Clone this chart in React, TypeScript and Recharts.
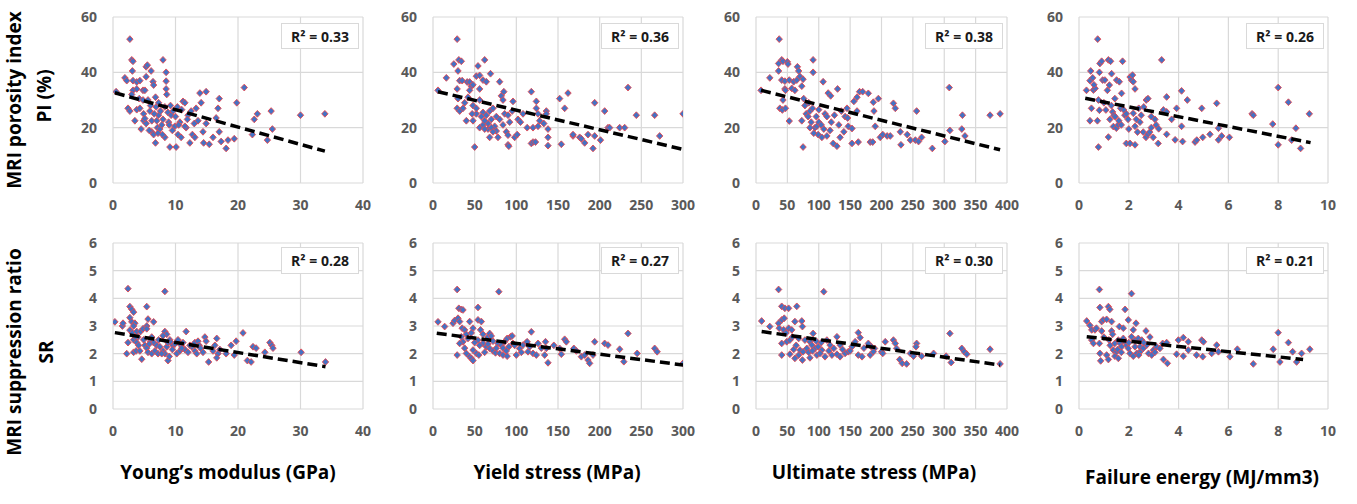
import { CartesianGrid, Scatter, ScatterChart, XAxis, YAxis } from "recharts";

type Pt = [number, number];

// axis ticks
const PI_TICKS = [0, 20, 40, 60];
const SR_TICKS = [0, 1, 2, 3, 4, 5, 6];
const MODULUS_TICKS = [0, 10, 20, 30, 40];
const YIELD_TICKS = [0, 50, 100, 150, 200, 250, 300];
const ULTIMATE_TICKS = [0, 50, 100, 150, 200, 250, 300, 350, 400];
const ENERGY_TICKS = [0, 2, 4, 6, 8, 10];

const X_TITLES = ["Young’s modulus (GPa)", "Yield stress (MPa)", "Ultimate stress (MPa)", "Failure energy (MJ/mm3)"];
const PI_R2 = ["0.33", "0.36", "0.38", "0.26"];
const SR_R2 = ["0.28", "0.27", "0.30", "0.21"];

// MRI porosity index (%) vs each mechanical property
const PI_VS_MODULUS: Pt[] = [
  [0.5, 33], [1.9, 38], [2.2, 37], [2.4, 27], [2.7, 26], [2.7, 52], [3.0, 44.5], [3.2, 44], [3.1, 40.5], [3.2, 37],
  [3.8, 36.5], [4.3, 37], [3.2, 33.5], [3.8, 34], [3.0, 32], [3.5, 22.5], [3.8, 26.5], [4.3, 27], [4.2, 30.5], [4.8, 33.5],
  [4.8, 30], [4.9, 25], [4.9, 22.5], [5.3, 21.5], [5.1, 23.3], [5.3, 42], [5.5, 42.6], [5.3, 38.4], [6.1, 40.5], [6.4, 36.6],
  [6.5, 35.4], [5.1, 33.5], [5.6, 30], [5.9, 26], [6.2, 22.5], [6.2, 18.5], [6.8, 14.5], [7.1, 20], [7.3, 24.5], [6.0, 28],
  [6.6, 25], [6.9, 27.5], [7.0, 22.5], [7.5, 19.5], [7.8, 21], [7.6, 26], [8.0, 44.5], [8.5, 40], [8.5, 36.8], [8.5, 34],
  [8.6, 32], [8.3, 27.5], [8.3, 16.5], [8.0, 23], [8.8, 25.5], [8.9, 22], [9.1, 13], [9.3, 24.5], [9.6, 26], [9.9, 20.5],
  [9.5, 19], [10.1, 13], [10.4, 17.5], [10.0, 24], [10.7, 22], [10.9, 16.5], [11.0, 26.5], [11.2, 29.5], [11.5, 29], [11.7, 20],
  [12.0, 24.5], [12.3, 14.5], [12.5, 26], [12.7, 17.5], [13.1, 16.5], [13.3, 27], [13.6, 22.5], [13.9, 32.5], [14.1, 29], [14.4, 18.5],
  [14.5, 14.5], [14.9, 33], [14.9, 21.5], [15.4, 14], [16.0, 16.5], [16.5, 23.5], [16.8, 27], [17.0, 30.5], [17.0, 18.5], [17.3, 15],
  [18.1, 12.5], [18.4, 15.5], [19.4, 16], [19.8, 29], [21.0, 34.5], [22.3, 17.5], [22.6, 23], [23.1, 25], [24.7, 15.5], [25.3, 26],
  [25.5, 19.5], [30.0, 24.5], [33.9, 25], [4.5, 19.5], [5.8, 19], [6.5, 17.5], [7.2, 18], [7.9, 17.5], [9.0, 21], [10.5, 21],
  [11.5, 20.5], [11.9, 23], [13.0, 21.5], [7.3, 29], [6.8, 31], [9.2, 28], [10.3, 27.5],
];
const PI_VS_YIELD: Pt[] = [
  [6, 33.5], [16, 38], [29, 52], [25, 43], [31, 44.5], [34, 44], [30, 40.5], [32, 37], [35, 37], [29, 34],
  [30, 30.5], [29, 27], [32, 26], [36, 27], [40, 22.5], [41, 36.5], [44, 36.5], [46, 35], [48, 35.5], [44, 33.5],
  [48, 22.5], [50, 13], [52, 38.6], [56, 38.9], [54, 42.3], [60, 37.2], [64, 36.6], [62, 44.5], [56, 34], [56, 30],
  [52, 25], [56, 20], [60, 25.5], [64, 24.5], [66, 21.5], [68, 26], [72, 27], [70, 23], [74, 20.5], [76, 18.8],
  [69, 39.5], [78, 16.5], [80, 36.6], [82, 31.5], [85, 33], [84, 30], [86, 25], [90, 24.5], [88, 18.5], [90, 17.3],
  [90, 13.8], [91, 13.3], [96, 29.5], [98, 16.5], [101, 17.5], [102, 23], [105, 22], [108, 25], [113, 20], [118, 33],
  [118, 14.3], [120, 14.8], [123, 14.8], [120, 20], [124, 29.5], [124, 27], [126, 25], [126, 20.5], [128, 22.5], [133, 21.5],
  [136, 26], [136, 25], [138, 19.5], [138, 16.5], [138, 13.5], [152, 30.5], [154, 14], [158, 27], [162, 32.5], [168, 17],
  [168, 17.5], [176, 16.5], [178, 16], [182, 14.5], [186, 17.5], [192, 12.5], [194, 17], [194, 29], [201, 15.5], [206, 26],
  [210, 20], [212, 20], [224, 20], [230, 20], [234, 34.5], [244, 24.5], [266, 24.5], [272, 17], [300, 25],
  [38, 29], [42, 31], [48, 28], [52, 27], [58, 24], [60, 21], [62, 22.5], [66, 19.5], [70, 20], [72, 18.5],
  [76, 24], [80, 23], [84, 21], [92, 22], [95, 26], [62, 19.5], [68, 16.5], [47, 25],
];
const PI_VS_ULTIMATE: Pt[] = [
  [8, 33.5], [22, 38], [37, 52], [36, 43.2], [41, 44.5], [43, 44], [36, 40.5], [41, 37.2], [46, 36.8], [46, 34],
  [47, 33.5], [43, 30], [38, 27], [42, 26.4], [47, 27], [53, 22.4], [50, 43.8], [51, 43], [53, 37.2], [60, 36.6],
  [65, 37.2], [57, 34.2], [62, 33.5], [66, 42], [68, 40.5], [70, 38.5], [75, 37.5], [73, 35], [76, 30.5], [75, 13],
  [73, 22.5], [80, 25], [83, 24], [86, 26], [91, 44.5], [91, 40], [88, 22], [94, 20], [97, 20.5], [99, 17.5],
  [105, 16.5], [107, 36.6], [110, 25], [113, 24], [115, 32.5], [119, 31.5], [113, 17], [118, 19], [123, 14.3], [130, 34],
  [129, 13.3], [134, 16.5], [140, 18.5], [145, 27], [142, 24], [146, 23.5], [147, 20.5], [153, 19.7], [153, 14.3], [156, 29.5],
  [161, 31], [165, 33], [161, 26], [163, 14.8], [170, 33], [179, 32.4], [182, 14.8], [186, 14.8], [187, 29.2], [188, 26],
  [190, 20.5], [195, 30.5], [198, 16.5], [202, 17.5], [209, 17], [214, 17], [219, 28.8], [222, 27], [230, 18.5], [231, 13.8],
  [241, 17.5], [246, 15.5], [254, 15.5], [256, 26], [259, 15], [264, 16.5], [281, 12.5], [301, 15], [308, 34.5], [309, 19],
  [328, 19.5], [329, 24.5], [333, 17], [373, 24.5], [389, 25],
  [78, 28], [84, 29], [90, 27], [96, 24], [100, 22], [104, 21], [108, 19.5], [120, 22], [125, 24.5], [132, 21],
  [136, 26], [100, 26.5], [92, 18], [86, 20],
];
const PI_VS_ENERGY: Pt[] = [
  [0.3, 33.5], [0.44, 37], [0.47, 40.5], [0.44, 22.5], [0.5, 27], [0.58, 33.6], [0.65, 34.2], [0.55, 38], [0.6, 35.5], [0.75, 52],
  [0.78, 13], [0.78, 30], [0.82, 26.3], [0.74, 22.5], [0.84, 43.2], [0.91, 44], [0.82, 40], [0.95, 37.2], [1.04, 37.2], [1.14, 33.5],
  [1.22, 35.4], [1.18, 16.6], [1.18, 44.5], [1.27, 44], [1.31, 39.5], [1.08, 26.4], [1.24, 23], [1.35, 25.7], [1.4, 24.5], [1.38, 20.4],
  [1.5, 19.8], [1.57, 21], [1.44, 30.5], [1.51, 37.2], [1.62, 36.6], [1.71, 32.4], [1.75, 44], [1.67, 27], [1.8, 26.4], [1.9, 14.3],
  [2.05, 14.3], [1.84, 24.5], [1.97, 23], [2.05, 38.3], [2.11, 37.2], [2.18, 36.6], [2.15, 39], [2.25, 34], [2.25, 13.8], [2.18, 25.2],
  [2.25, 20.5], [2.35, 18.4], [2.45, 22], [2.5, 24.5], [2.6, 27.5], [2.7, 30], [2.77, 30.5], [2.58, 18.4], [2.69, 16.5], [2.77, 17.6],
  [2.84, 18.4], [2.98, 16.5], [2.9, 24], [3.05, 23], [3.1, 21], [3.2, 19.6], [3.18, 14.3], [3.32, 44.5], [3.39, 26.4], [3.52, 25.7],
  [3.52, 31.1], [3.52, 17.6], [3.72, 23], [3.86, 15.6], [3.92, 27], [4.12, 33.3], [4.12, 20.5], [4.16, 15], [4.35, 30], [4.66, 14.8],
  [4.73, 15.5], [4.93, 27], [4.97, 16.5], [5.26, 17.6], [5.53, 28.8], [5.6, 19.8], [5.6, 15.6], [5.73, 17], [6.04, 16.5], [6.95, 25],
  [7.0, 24.5], [7.78, 21.3], [8.0, 34.5], [8.0, 13.8], [8.41, 29.2], [8.54, 15.5], [8.71, 19.8], [8.9, 12.5], [9.25, 25],
  [1.0, 29], [1.3, 28], [1.6, 22.5], [1.7, 21], [1.9, 25], [2.0, 19.5], [2.3, 23], [2.4, 27], [2.9, 20], [1.45, 24],
];

// MRI suppression ratio vs each mechanical property
const SR_VS_MODULUS: Pt[] = [
  [0.3, 3.15], [1.5, 3.0], [1.6, 3.1], [2.4, 4.35], [2.2, 2.0], [2.4, 2.4], [2.7, 3.7], [3.0, 3.6], [3.3, 3.5], [2.7, 3.3],
  [3.0, 3.15], [3.5, 3.1], [3.3, 3.0], [2.7, 2.85], [3.1, 2.75], [3.8, 2.8], [3.3, 2.5], [3.8, 2.4], [4.1, 2.3], [3.3, 2.05],
  [3.7, 2.1], [4.4, 2.8], [4.8, 2.9], [5.4, 3.0], [4.6, 1.8], [4.3, 2.1], [5.1, 2.3], [5.4, 2.2], [5.6, 2.05], [5.4, 3.7],
  [5.6, 3.25], [5.4, 2.9], [6.2, 2.6], [6.5, 3.15], [6.0, 2.45], [6.5, 2.4], [7.0, 2.3], [7.5, 2.25], [6.2, 2.0], [6.7, 2.1],
  [7.2, 2.0], [8.0, 2.1], [8.3, 2.0], [8.6, 2.25], [8.8, 2.4], [8.3, 4.25], [8.3, 2.8], [8.6, 2.7], [8.0, 2.65], [8.8, 1.75],
  [9.1, 2.5], [9.3, 2.4], [9.6, 2.3], [9.9, 2.35], [10.2, 2.0], [10.7, 2.1], [10.9, 2.3], [11.2, 2.4], [11.7, 2.8], [11.5, 2.15],
  [12.0, 2.05], [12.6, 2.25], [13.1, 2.1], [13.4, 2.0], [13.1, 2.4], [13.6, 2.45], [13.8, 2.3], [14.4, 2.05], [14.7, 2.6], [14.9, 2.45],
  [15.3, 1.7], [16.0, 2.1], [16.3, 2.3], [16.6, 2.55], [16.8, 2.0], [17.1, 2.15], [16.6, 1.85], [18.1, 2.0], [18.9, 2.3], [19.4, 1.95],
  [19.7, 2.45], [20.8, 2.75], [21.5, 1.75], [22.1, 1.7], [22.4, 2.25], [22.9, 2.2], [24.3, 2.05], [25.1, 2.4], [25.4, 2.3], [25.6, 2.2],
  [30.1, 2.05], [34.0, 1.7],
  [4.0, 2.6], [4.9, 2.5], [5.8, 2.35], [7.3, 2.5], [7.8, 2.0], [9.0, 1.9], [9.5, 2.15], [10.4, 2.5], [11.0, 2.2], [12.3, 2.3],
  [14.0, 2.2], [3.6, 2.6],
];
const SR_VS_YIELD: Pt[] = [
  [6, 3.15], [14, 2.98], [24, 3.1], [26, 3.2], [29, 4.32], [29, 1.95], [31, 3.64], [34, 3.6], [36, 3.58], [30, 3.28],
  [32, 3.16], [35, 2.92], [38, 2.86], [34, 2.61], [36, 2.43], [32, 2.37], [40, 2.01], [44, 1.89], [46, 1.83], [48, 1.75],
  [48, 2.13], [52, 2.01], [55, 1.95], [44, 3.16], [48, 2.92], [54, 3.67], [54, 3.22], [58, 3.16], [57, 2.86], [54, 2.49],
  [60, 2.37], [64, 2.25], [66, 2.61], [68, 2.73], [70, 2.64], [68, 2.19], [72, 2.1], [75, 2.03], [79, 4.24], [80, 2.01],
  [84, 1.95], [89, 1.91], [78, 2.37], [82, 2.31], [86, 2.43], [89, 2.55], [93, 2.61], [95, 2.64], [91, 2.25], [96, 2.37],
  [100, 1.95], [104, 2.19], [108, 2.31], [112, 2.4], [113, 2.43], [118, 2.79], [114, 2.07], [120, 2.01], [124, 1.95], [126, 2.37],
  [135, 2.43], [136, 2.19], [134, 1.95], [138, 1.67], [152, 2.19], [154, 1.98], [158, 2.52], [160, 2.43], [169, 2.19], [172, 2.1],
  [178, 1.89], [182, 1.95], [186, 1.77], [188, 1.65], [192, 1.95], [194, 2.43], [206, 2.37], [210, 2.31], [224, 2.16], [229, 1.71],
  [234, 2.73], [245, 2.01], [266, 2.19], [269, 2.07], [300, 1.65],
  [40, 2.7], [42, 2.55], [50, 2.4], [56, 2.3], [62, 2.05], [66, 2.35], [72, 2.45], [76, 2.2], [84, 2.2], [88, 2.1],
  [98, 2.3], [106, 2.05], [116, 2.25], [130, 2.2], [145, 2.3], [60, 2.7], [38, 2.2], [46, 2.75],
];
const SR_VS_ULTIMATE: Pt[] = [
  [9, 3.18], [22, 2.98], [36, 4.32], [41, 3.71], [46, 3.64], [52, 3.64], [65, 3.71], [36, 3.1], [41, 3.22], [45, 3.28],
  [37, 2.92], [44, 2.86], [52, 2.92], [57, 2.86], [62, 3.16], [73, 3.18], [74, 2.98], [41, 2.37], [49, 2.43], [54, 2.49],
  [41, 1.95], [54, 1.98], [62, 1.83], [68, 1.95], [74, 1.77], [70, 2.13], [75, 2.07], [81, 2.19], [78, 2.49], [86, 2.43],
  [91, 2.73], [89, 2.31], [94, 2.19], [99, 2.25], [105, 2.13], [97, 1.95], [102, 2.01], [110, 1.89], [108, 4.24], [113, 2.49],
  [118, 2.31], [124, 2.19], [129, 2.61], [134, 2.31], [121, 1.95], [129, 1.98], [134, 1.89], [142, 2.01], [147, 2.07], [153, 2.25],
  [158, 2.43], [163, 2.76], [166, 2.58], [163, 1.95], [169, 1.89], [179, 2.37], [184, 2.25], [189, 2.19], [182, 1.95], [187, 2.07],
  [200, 2.07], [202, 2.01], [206, 2.43], [219, 2.49], [222, 2.37], [224, 2.19], [229, 1.79], [233, 1.65], [240, 1.63], [246, 2.01],
  [251, 1.91], [256, 2.37], [255, 2.25], [264, 1.91], [283, 2.01], [303, 1.91], [309, 2.73], [311, 1.68], [328, 2.19], [332, 2.07],
  [336, 1.98], [373, 2.16], [389, 1.63],
  [58, 2.6], [64, 2.3], [68, 2.55], [84, 2.05], [90, 2.1], [96, 2.45], [104, 2.4], [116, 2.1], [138, 2.15], [150, 2.1],
  [172, 2.2], [48, 2.75], [60, 2.15], [86, 1.85],
];
const SR_VS_ENERGY: Pt[] = [
  [0.31, 3.18], [0.44, 3.02], [0.51, 2.86], [0.51, 2.49], [0.58, 2.37], [0.64, 2.86], [0.7, 2.92], [0.82, 4.32], [0.84, 3.67], [0.91, 3.16],
  [0.97, 3.22], [0.84, 2.01], [0.87, 1.74], [0.82, 2.37], [0.91, 2.82], [1.11, 3.24], [1.18, 3.7], [1.24, 3.6], [1.31, 3.16], [1.11, 1.95],
  [1.18, 1.79], [1.31, 2.82], [1.35, 2.7], [1.38, 2.13], [1.44, 1.91], [1.51, 2.07], [1.58, 1.83], [1.44, 2.37], [1.58, 2.49], [1.65, 2.37],
  [1.71, 2.25], [1.62, 2.98], [1.78, 2.92], [1.85, 3.6], [1.78, 2.55], [1.85, 2.43], [1.91, 2.31], [1.98, 2.19], [1.98, 3.22], [2.11, 4.17],
  [2.18, 2.86], [2.29, 3.1], [2.05, 2.01], [2.18, 1.91], [2.32, 2.01], [2.45, 2.07], [2.11, 2.61], [2.25, 2.49], [2.38, 2.55], [2.52, 2.49],
  [2.25, 2.25], [2.45, 2.25], [2.58, 2.19], [2.72, 2.31], [2.69, 2.82], [2.79, 2.01], [2.92, 1.95], [2.99, 2.13], [3.12, 2.25], [3.25, 2.19],
  [3.39, 1.79], [3.55, 1.65], [3.36, 2.37], [3.52, 2.4], [3.92, 1.98], [3.99, 2.49], [4.19, 2.58], [4.39, 2.43], [4.19, 1.91], [4.39, 2.13],
  [4.72, 1.95], [4.93, 2.49], [5.0, 2.43], [4.97, 1.89], [5.33, 2.01], [5.53, 2.31], [5.6, 2.07], [6.06, 1.89], [6.36, 2.16], [7.0, 1.63],
  [7.8, 2.16], [8.0, 2.76], [8.07, 1.7], [8.41, 2.4], [8.58, 2.07], [8.74, 1.7], [8.94, 2.01], [9.27, 2.16],
  [1.0, 2.6], [1.25, 2.3], [1.55, 2.15], [1.7, 2.05], [2.0, 2.4], [2.6, 2.4], [2.85, 2.6], [3.05, 2.05], [1.2, 2.5], [2.4, 1.95],
];

// linear trend lines (start / end)
const PI_TRENDS: Pt[][] = [
  [[0.3, 32.6], [33.9, 11.5]],
  [[6, 33], [298, 12.3]],
  [[8, 33.5], [389, 12]],
  [[0.25, 30.6], [9.3, 14.6]],
];
const SR_TRENDS: Pt[][] = [
  [[0.3, 2.76], [34, 1.53]],
  [[4.5, 2.74], [300, 1.59]],
  [[9, 2.8], [389, 1.59]],
  [[0.31, 2.61], [9.0, 1.79]],
];

const PI_SETS = [PI_VS_MODULUS, PI_VS_YIELD, PI_VS_ULTIMATE, PI_VS_ENERGY];
const SR_SETS = [SR_VS_MODULUS, SR_VS_YIELD, SR_VS_ULTIMATE, SR_VS_ENERGY];
const X_TICKS = [MODULUS_TICKS, YIELD_TICKS, ULTIMATE_TICKS, ENERGY_TICKS];

// plot-area pixel edges
const COLS = [[113, 363], [433, 683], [756, 1007], [1079, 1328]];
const ROWS = [[17, 183], [243, 409]];
const Y_W = 50;
const X_H = 30;
const M_T = 10;
const M_R = 18;

const GRID = "#d9d9d9";
const TICK_TEXT = "#595959";
const MARKER_FILL = "#4472C4";
const MARKER_EDGE = "#E8484F";
const TITLE_FONT = "'Open Sans', sans-serif";

const tickStyle = { fill: TICK_TEXT, fontSize: 14, fontWeight: 700, fontFamily: "Open Sans" };

function Diamond(props: any) {
  const { cx, cy } = props;
  if (cx == null || cy == null) return <g />;
  return (
    <polygon
      points={`${cx},${cy - 3.4} ${cx + 3.2},${cy} ${cx},${cy + 3.4} ${cx - 3.2},${cy}`}
      fill={MARKER_FILL}
      stroke={MARKER_EDGE}
      strokeWidth={0.9}
    />
  );
}

const toRows = (pts: Pt[]) => pts.map(([x, y]) => ({ x, y }));

function Panel({ row, col, points, trend, yTicks, r2 }: {
  row: number; col: number; points: Pt[]; trend: Pt[]; yTicks: number[]; r2: string;
}) {
  const [L, R] = COLS[col];
  const [T, B] = ROWS[row];
  const xTicks = X_TICKS[col];
  const w = R - L + Y_W + M_R;
  const h = B - T + M_T + X_H;

  return (
    <div style={{ position: "absolute", left: L - Y_W, top: T - M_T, width: w, height: h }}>
      <ScatterChart width={w} height={h} margin={{ top: M_T, right: M_R, bottom: 0, left: 0 }}>
        <CartesianGrid stroke={GRID} strokeWidth={1.2} />
        <XAxis
          type="number"
          dataKey="x"
          domain={[xTicks[0], xTicks[xTicks.length - 1]]}
          ticks={xTicks}
          interval={0}
          axisLine={false}
          tickLine={false}
          tickMargin={11}
          height={X_H}
          tick={tickStyle}
          allowDataOverflow
        />
        <YAxis
          type="number"
          dataKey="y"
          domain={[yTicks[0], yTicks[yTicks.length - 1]]}
          ticks={yTicks}
          interval={0}
          axisLine={false}
          tickLine={false}
          tickMargin={10}
          width={Y_W}
          tick={tickStyle}
          allowDataOverflow
        />
        <Scatter data={toRows(points)} shape={Diamond} isAnimationActive={false} />
        <Scatter
          data={toRows(trend)}
          line={{ stroke: "#000", strokeWidth: 3.5, strokeDasharray: "10 5" }}
          shape={() => <g />}
          isAnimationActive={false}
        />
      </ScatterChart>
      <div
        style={{
          position: "absolute",
          left: Y_W + (R - L) - 4 - 78,
          top: M_T + (row === 0 ? 6 : 4),
          width: 78,
          height: row === 0 ? 26 : 27,
          boxSizing: "border-box",
          background: "#fff",
          border: `1px solid ${GRID}`,
          display: "flex",
          alignItems: "center",
          justifyContent: "center",
          fontFamily: "Open Sans",
          fontWeight: 700,
          fontSize: 14,
          color: "#1a1a1a",
        }}
      >
        R² = {r2}
      </div>
    </div>
  );
}

function SideTitle({ text, cx, cy }: { text: string; cx: number; cy: number }) {
  return (
    <div
      style={{
        position: "absolute",
        left: cx - 150,
        top: cy - 13,
        width: 300,
        height: 26,
        lineHeight: "26px",
        textAlign: "center",
        transform: "rotate(-90deg)",
        fontFamily: TITLE_FONT,
        fontWeight: 700,
        fontSize: 19,
        color: "#000",
        whiteSpace: "nowrap",
      }}
    >
      {text}
    </div>
  );
}

const TITLE_X = [228, 557, 874, 1202];
const TITLE_Y = [472, 472, 472, 477];

export default function App() {
  return (
    <div style={{ position: "absolute", left: 0, top: 0, width: 1357, height: 504, background: "#fff", overflow: "hidden" }}>
      {PI_SETS.map((pts, i) => (
        <Panel key={`pi${i}`} row={0} col={i} points={pts} trend={PI_TRENDS[i]} yTicks={PI_TICKS} r2={PI_R2[i]} />
      ))}
      {SR_SETS.map((pts, i) => (
        <Panel key={`sr${i}`} row={1} col={i} points={pts} trend={SR_TRENDS[i]} yTicks={SR_TICKS} r2={SR_R2[i]} />
      ))}
      <SideTitle text="MRI porosity index" cx={14} cy={100} />
      <SideTitle text="PI (%)" cx={44} cy={96} />
      <SideTitle text="MRI suppression ratio" cx={14} cy={352} />
      <SideTitle text="SR" cx={46} cy={352} />
      {X_TITLES.map((t, i) => (
        <div
          key={t}
          style={{
            position: "absolute",
            left: TITLE_X[i] - 150,
            top: TITLE_Y[i] - 13,
            width: 300,
            height: 26,
            lineHeight: "26px",
            textAlign: "center",
            fontFamily: TITLE_FONT,
            fontWeight: 700,
            fontSize: 19,
            color: "#000",
            whiteSpace: "nowrap",
          }}
        >
          {t}
        </div>
      ))}
    </div>
  );
}
